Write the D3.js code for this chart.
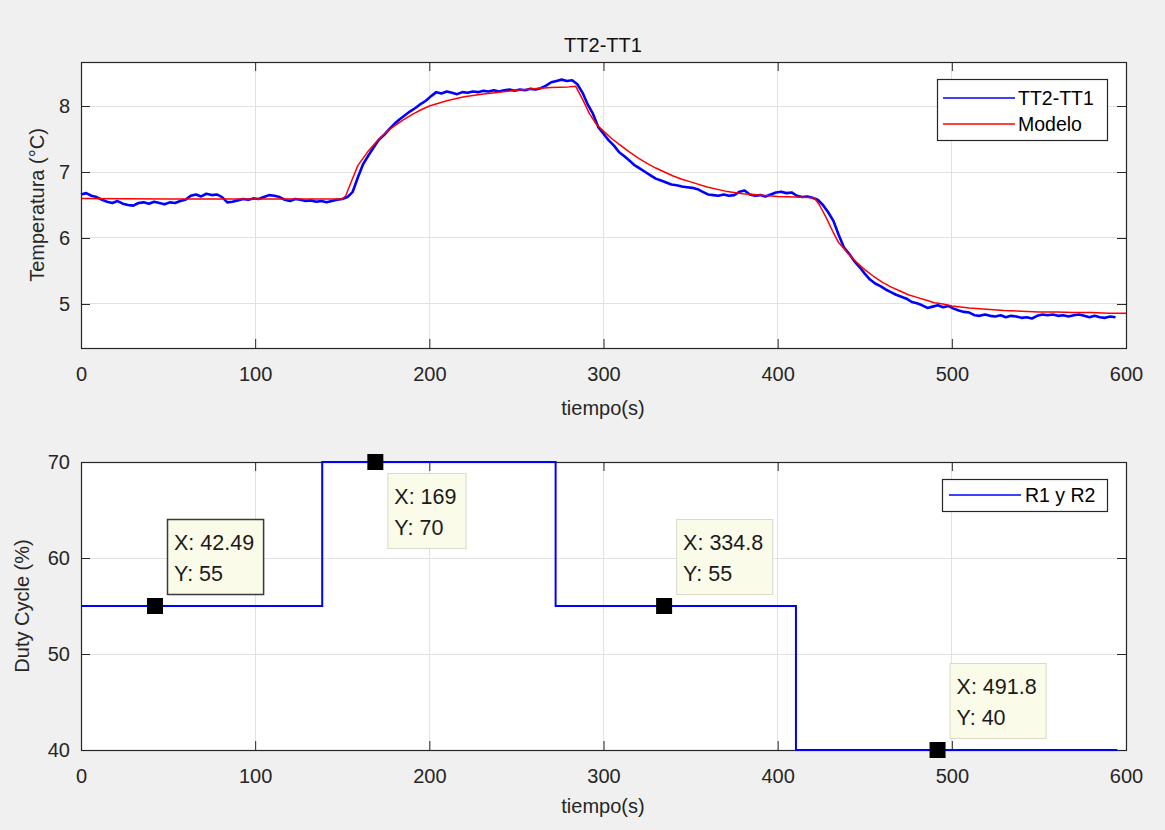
<!DOCTYPE html>
<html><head><meta charset="utf-8">
<script src="https://cdn.jsdelivr.net/npm/d3@7/dist/d3.min.js"></script>
<style>
body{margin:0;background:#f0f0f0}
text{font-family:"Liberation Sans",Arial,Helvetica,sans-serif}
</style>
</head><body>
<svg id="c" width="1165" height="830"></svg>
<script>
// ---------- DATA ----------
const xTicks = [0,100,200,300,400,500,600];
const yTicksTop = [5,6,7,8];
const yTicksBottom = [40,50,60,70];

// Measured TT2-TT1 (sampled every 3 s)
const blueT = [0,3,6,9,12,15,18,21,24,27,30,33,36,39,42,45,48,51,54,57,60,63,66,69,72,75,78,81,84,87,90,93,96,99,
102,105,108,111,114,117,120,123,126,129,132,135,138,141,144,147,150,153,156,159,162,165,168,171,174,177,180,183,186,189,192,195,198,
201,204,207,210,213,216,219,222,225,228,231,234,237,240,243,246,249,252,255,258,261,264,267,270,273,276,279,282,285,288,291,294,297,
300,303,306,309,312,315,318,321,324,327,330,333,336,339,342,345,348,351,354,357,360,363,366,369,372,375,378,381,384,387,390,393,396,399,
402,405,408,411,414,417,420,423,426,429,432,435,438,441,444,447,450,453,456,459,462,465,468,471,474,477,480,483,486,489,492,495,498,
501,504,507,510,513,516,519,522,525,528,531,534,537,540,543,546,549,552,555,558,561,564,567,570,573,576,579,582,585,588,591,594];
const blueV = [6.66,6.68,6.64,6.62,6.58,6.55,6.53,6.56,6.52,6.50,6.49,6.53,6.54,6.52,6.55,6.53,6.51,6.54,6.53,6.56,6.58,6.64,6.66,6.63,6.67,6.65,6.66,6.62,6.54,6.55,6.57,6.59,6.58,6.60,
6.59,6.62,6.65,6.64,6.62,6.58,6.56,6.59,6.58,6.56,6.57,6.55,6.56,6.54,6.56,6.58,6.59,6.62,6.70,6.92,7.12,7.25,7.37,7.49,7.56,7.65,7.73,7.80,7.86,7.92,7.97,8.03,8.08,
8.15,8.21,8.19,8.22,8.20,8.18,8.21,8.20,8.22,8.21,8.23,8.22,8.24,8.22,8.24,8.25,8.23,8.25,8.24,8.26,8.25,8.27,8.31,8.36,8.38,8.40,8.38,8.39,8.33,8.20,8.02,7.88,7.68,
7.58,7.48,7.40,7.30,7.24,7.17,7.10,7.05,7.00,6.95,6.90,6.87,6.84,6.81,6.80,6.78,6.77,6.76,6.74,6.70,6.66,6.65,6.64,6.66,6.64,6.65,6.70,6.72,6.66,6.64,6.65,6.63,6.66,6.69,
6.70,6.68,6.69,6.64,6.62,6.63,6.61,6.58,6.50,6.39,6.26,6.05,5.86,5.76,5.65,5.56,5.46,5.37,5.31,5.27,5.22,5.18,5.14,5.11,5.08,5.03,5.01,4.98,4.94,4.96,4.98,4.95,4.97,
4.93,4.90,4.88,4.87,4.83,4.82,4.84,4.82,4.81,4.83,4.80,4.82,4.81,4.79,4.80,4.78,4.82,4.84,4.83,4.84,4.82,4.83,4.81,4.83,4.84,4.82,4.80,4.82,4.80,4.79,4.81,4.80];

// Model
const redT = [0,50,100,150,152,155,159,165,170,175,180,185,190,195,200,210,220,230,240,250,260,270,280,284,288,292,296,300,305,310,315,320,325,330,335,340,345,350,
360,370,380,390,400,410,421,424,428,432,435,440,445,450,455,460,465,470,475,480,485,490,495,500,510,520,530,540,550,560,570,580,590,600];
const redV = [6.60,6.59,6.59,6.59,6.64,6.84,7.10,7.32,7.47,7.60,7.70,7.79,7.87,7.94,8.00,8.08,8.14,8.18,8.21,8.24,8.26,8.28,8.29,8.30,8.10,7.88,7.72,7.62,7.50,7.40,7.30,7.21,7.13,7.06,7.00,6.94,6.89,6.85,
6.77,6.71,6.67,6.65,6.63,6.62,6.61,6.50,6.30,6.08,5.93,5.78,5.64,5.52,5.42,5.33,5.26,5.20,5.14,5.10,5.06,5.02,5.00,4.97,4.94,4.92,4.90,4.89,4.88,4.88,4.87,4.87,4.86,4.86];

// Duty cycle (step changes)
const dutyT = [0,138.5,272.5,410.5,595];
const dutyV = [55,70,55,40,40];

// Data tips
const tipX = [42.49,169,334.8,491.8];
const tipY = [55,70,55,40];
const tipLabelX = ["42.49","169","334.8","491.8"];
const tipLabelY = ["55","70","55","40"];
const tipBelow = [false,true,false,false];
const tipSelected = [true,false,false,false];

// ---------- DRAW ----------
const svg = d3.select("#c");
svg.append("rect").attr("width",1165).attr("height",830).attr("fill","#f0f0f0");
const axisCol = "#262626", gridCol = "#e2e2e2", FS = 20;

function panel(xs, ys, yTicks){
  const [x0,x1] = xs.range(), [yb,yt] = ys.range();
  const g = svg.append("g");
  g.append("rect").attr("x",x0).attr("y",yt).attr("width",x1-x0).attr("height",yb-yt).attr("fill","#fff");
  g.selectAll(".gx").data(xTicks).join("line").attr("x1",d=>xs(d)).attr("x2",d=>xs(d)).attr("y1",yt).attr("y2",yb)
    .attr("stroke",gridCol).attr("stroke-width",1).attr("shape-rendering","crispEdges");
  g.selectAll(".gy").data(yTicks).join("line").attr("y1",d=>ys(d)).attr("y2",d=>ys(d)).attr("x1",x0).attr("x2",x1)
    .attr("stroke",gridCol).attr("stroke-width",1).attr("shape-rendering","crispEdges");
  return g;
}
function axes(xs, ys, yTicks){
  const [x0,x1] = xs.range(), [yb,yt] = ys.range();
  const g = svg.append("g");
  const style = s => { s.select(".domain").remove(); s.selectAll("line").attr("stroke",axisCol);
    s.selectAll("text").attr("fill",axisCol).style("font-size",FS+"px").style("font-family","'Liberation Sans',Arial,sans-serif"); };
  g.append("g").attr("transform",`translate(0,${yb})`).call(d3.axisBottom(xs).tickValues(xTicks).tickFormat(d3.format("d")).tickSizeInner(-9).tickSizeOuter(0).tickPadding(19)).call(style);
  g.append("g").attr("transform",`translate(0,${yt})`).call(d3.axisTop(xs).tickValues(xTicks).tickFormat("").tickSizeInner(-9).tickSizeOuter(0)).call(style);
  g.append("g").attr("transform",`translate(${x0},0)`).call(d3.axisLeft(ys).tickValues(yTicks).tickFormat(d3.format("d")).tickSizeInner(-9).tickSizeOuter(0).tickPadding(11)).call(style);
  g.append("g").attr("transform",`translate(${x1},0)`).call(d3.axisRight(ys).tickValues(yTicks).tickFormat("").tickSizeInner(-9).tickSizeOuter(0)).call(style);
  g.append("rect").attr("x",x0+0.5).attr("y",yt+0.5).attr("width",x1-x0).attr("height",yb-yt)
    .attr("fill","none").attr("stroke",axisCol).attr("stroke-width",1.2);
}

// Top panel
const x1s = d3.scaleLinear([0,600],[81,1126]);
const y1s = d3.scaleLinear([4.333,8.667],[348,62]);
panel(x1s,y1s,yTicksTop);
const lineB = d3.line().x((d,i)=>x1s(blueT[i])).y(d=>y1s(d));
svg.append("path").attr("d",lineB(blueV)).attr("fill","none").attr("stroke","#0000ff").attr("stroke-width",2.6).attr("stroke-linejoin","round");
const lineR = d3.line().x((d,i)=>x1s(redT[i])).y(d=>y1s(d));
svg.append("path").attr("d",lineR(redV)).attr("fill","none").attr("stroke","#ff0000").attr("stroke-width",1.5).attr("stroke-linejoin","round");
axes(x1s,y1s,yTicksTop);

svg.append("text").attr("x",603).attr("y",52).attr("text-anchor","middle").style("font-size",FS+"px").attr("fill","#111").text("TT2-TT1");
svg.append("text").attr("x",603).attr("y",415).attr("text-anchor","middle").style("font-size",FS+"px").attr("fill",axisCol).text("tiempo(s)");
svg.append("text").attr("transform","translate(44,205) rotate(-90)").attr("text-anchor","middle").style("font-size",FS+"px").attr("fill",axisCol).text("Temperatura (°C)");

// top legend
const lg = svg.append("g");
lg.append("rect").attr("x",937.5).attr("y",79.5).attr("width",170).attr("height",61).attr("fill","#fff").attr("stroke",axisCol).attr("stroke-width",1.2);
[["TT2-TT1","#0000ff",98],["Modelo","#ff0000",124]].forEach(([t,c,y])=>{
  lg.append("line").attr("x1",943).attr("x2",1015).attr("y1",y).attr("y2",y).attr("stroke",c).attr("stroke-width",1.5);
  lg.append("text").attr("x",1018).attr("y",y+7).style("font-size","19.5px").attr("fill","#000").text(t);
});

// Bottom panel
const x2s = d3.scaleLinear([0,600],[81,1126]);
const y2s = d3.scaleLinear([40,70],[750,462]);
panel(x2s,y2s,yTicksBottom);
axes(x2s,y2s,yTicksBottom);
const lineD = d3.line().x((d,i)=>x2s(dutyT[i])).y(d=>y2s(d)).curve(d3.curveStepAfter);
svg.append("path").attr("d",lineD(dutyV)).attr("fill","none").attr("stroke","#0000ff").attr("stroke-width",2);

svg.append("text").attr("x",603).attr("y",813).attr("text-anchor","middle").style("font-size",FS+"px").attr("fill",axisCol).text("tiempo(s)");
svg.append("text").attr("transform","translate(29,606) rotate(-90)").attr("text-anchor","middle").style("font-size",FS+"px").attr("fill",axisCol).text("Duty Cycle (%)");

// bottom legend
const lg2 = svg.append("g");
lg2.append("rect").attr("x",942.5).attr("y",479.5).attr("width",165).attr("height",32).attr("fill","#fff").attr("stroke",axisCol).attr("stroke-width",1.2);
lg2.append("line").attr("x1",949).attr("x2",1021).attr("y1",495).attr("y2",495).attr("stroke","#0000ff").attr("stroke-width",1.5);
lg2.append("text").attr("x",1025).attr("y",502).style("font-size","19.5px").attr("fill","#000").text("R1 y R2");

// data tips
tipX.forEach((xv,i)=>{
  const mx = x2s(xv), my = y2s(tipY[i]);
  const g = svg.append("g");
  const t1 = g.append("text").style("font-size","21.5px").attr("fill","#1a1a1a").text("X: "+tipLabelX[i]);
  const t2 = g.append("text").style("font-size","21.5px").attr("fill","#1a1a1a").text("Y: "+tipLabelY[i]);
  const w = Math.max(t1.node().getComputedTextLength(), t2.node().getComputedTextLength()) + 16;
  const h = 75;
  const bx = mx + 12;
  const by = tipBelow[i] ? my + 11 : my - 12 - h;
  g.insert("rect","text").attr("x",bx+0.5).attr("y",by+0.5).attr("width",w).attr("height",h)
    .attr("fill","#fbfbe9").attr("stroke",tipSelected[i]?"#3a3a3a":"#d9d9c8").attr("stroke-width",tipSelected[i]?1.5:1);
  t1.attr("x",bx+7).attr("y",by+31);
  t2.attr("x",bx+7).attr("y",by+62);
  svg.append("rect").attr("x",mx-8).attr("y",my-8).attr("width",16).attr("height",16).attr("fill","#000");
});
</script>
</body></html>
